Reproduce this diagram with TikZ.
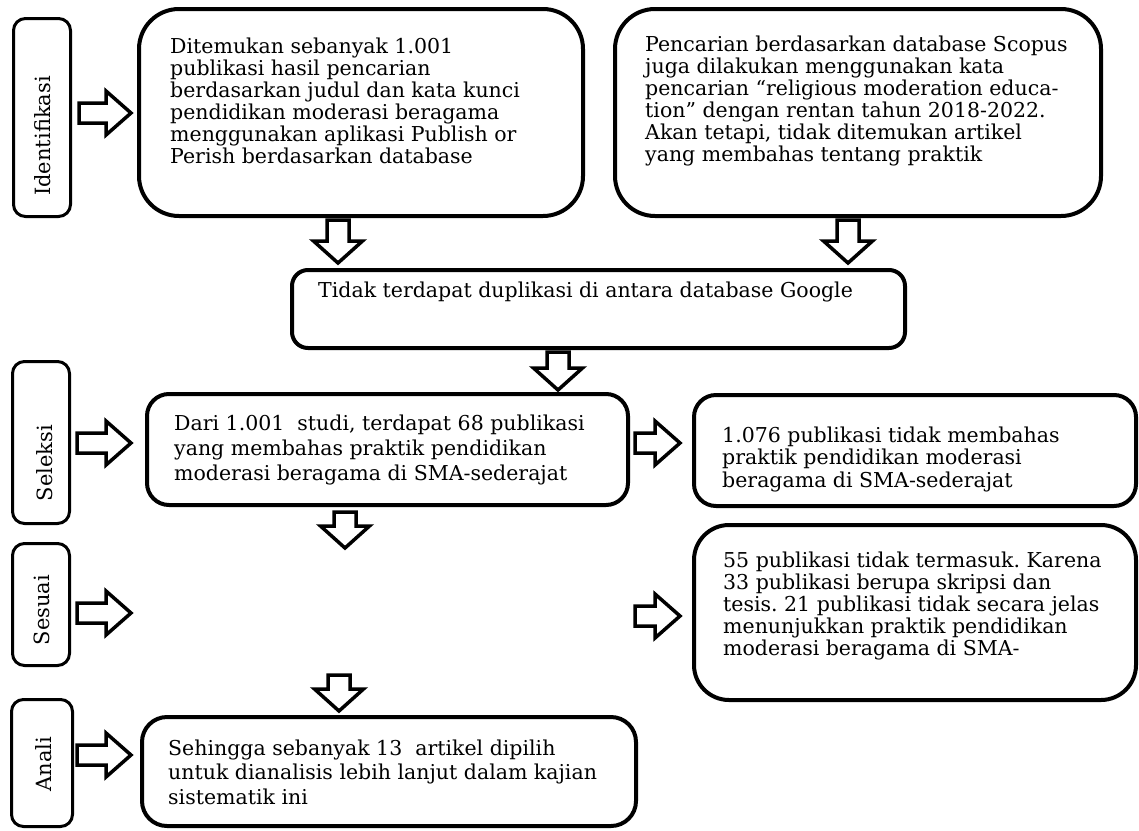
\documentclass[tikz,border=0pt]{standalone}
\usepackage{fontspec}
\setmainfont{DejaVu Serif}
\usetikzlibrary{calc}
\frenchspacing
\newcommand\txtlines[1]{\parbox[t]{600pt}{\lineskiplimit=-100pt #1}}
\newcommand\rarr[2]{\draw[blk] ($(#1)+(0,10)$) -- ($(#2)+(-25,10)$) -- ($(#2)+(-25,22)$) -- (#2) -- ($(#2)+(-25,-22)$) -- ($(#2)+(-25,-10)$) -- ($(#1)+(0,-10)$) -- cycle;}
\newcommand\darr[2]{\draw[blk] ($(#1)+(-11,0)$) -- ($(#2)+(-11,22)$) -- ($(#2)+(-24.5,22)$) -- (#2) -- ($(#2)+(24.5,22)$) -- ($(#2)+(11,22)$) -- ($(#1)+(11,0)$) -- cycle;}
\begin{document}
\begin{tikzpicture}[x=1pt,y=1pt,
  box/.style={draw, line width=4pt, inner sep=0pt, outer sep=0pt, anchor=north west},
  lbl/.style={draw, line width=3pt, rounded corners=12pt, inner sep=0pt, outer sep=0pt, anchor=north west},
  txt/.style={inner sep=0pt, anchor=base west, font=\fontsize{20.5}{#1}\selectfont},
  ltxt/.style={inner sep=0pt, anchor=base, rotate=90, font=\fontsize{21}{21}\selectfont},
  blk/.style={draw, line width=3.5pt, fill=white, miter limit=10}]
\useasboundingbox (0,0) rectangle (1139,-830);
% label boxes
\node[lbl, minimum width=57, minimum height=198] (lblI) at (13.5,-18.5) {};
\node[lbl, minimum width=57, minimum height=162] (lblS) at (12.5,-361.5) {};
\node[lbl, minimum width=57, minimum height=122] (lblSs) at (12.5,-543.5) {};
\node[lbl, minimum width=61, minimum height=127] (lblA) at (11.5,-699.5) {};
\node[ltxt] (tI) at (50,-136) {Identifikasi};
\node[ltxt] (tS) at (52,-463) {Seleksi};
\node[ltxt] (tSs) at (49,-610) {Sesuai};
\node[ltxt] (tA) at (51,-764) {Anali};
% content boxes
\node[box, rounded corners=40pt, minimum width=444, minimum height=207] (A) at (139,-9) {};
\node[box, rounded corners=40pt, minimum width=486, minimum height=207] (B) at (615,-9) {};
\node[box, rounded corners=16pt, minimum width=613, minimum height=78] (C) at (292,-270) {};
\node[box, rounded corners=22pt, minimum width=481, minimum height=111] (D) at (147,-394) {};
\node[box, rounded corners=22pt, minimum width=442, minimum height=111] (E) at (694,-395) {};
\node[box, rounded corners=35pt, minimum width=442, minimum height=175] (F) at (694,-525) {};
\node[box, rounded corners=25pt, minimum width=494, minimum height=109] (G) at (142,-717) {};
% texts
\node[txt=22] (At) at (170,-53) {\txtlines{Ditemukan sebanyak 1.001\\publikasi hasil pencarian\\berdasarkan judul dan kata kunci\\pendidikan moderasi beragama\\menggunakan aplikasi Publish or\\Perish berdasarkan database}};
\node[txt=22] (Bt) at (645,-51) {\txtlines{Pencarian berdasarkan database Scopus\\juga dilakukan menggunakan kata\\pencarian “religious moderation educa-\\tion” dengan rentan tahun 2018-2022.\\Akan tetapi, tidak ditemukan artikel\\yang membahas tentang praktik}};
\node[txt=22] (Ct) at (318,-297) {\txtlines{Tidak terdapat duplikasi di antara database Google}};
\node[txt=25] (Dt) at (174,-430) {\txtlines{Dari 1.001\ \ studi, terdapat 68 publikasi\\yang membahas praktik pendidikan\\moderasi beragama di SMA-sederajat}};
\node[txt=22.5] (Et) at (722,-442) {\txtlines{1.076 publikasi tidak membahas\\praktik pendidikan moderasi\\beragama di SMA-sederajat}};
\node[txt=22] (Ft) at (723,-567) {\txtlines{55 publikasi tidak termasuk. Karena\\33 publikasi berupa skripsi dan\\tesis. 21 publikasi tidak secara jelas\\menunjukkan praktik pendidikan\\moderasi beragama di SMA-}};
\node[txt=24.5] (Gt) at (168,-755) {\txtlines{Sehingga sebanyak 13\ \ artikel dipilih\\untuk dianalisis lebih lanjut dalam kajian\\sistematik ini}};
% connector coordinates
\coordinate (a1) at ($(A.south west)+(199,-4)$);
\coordinate (a2) at ($(a1 |- C.north)+(0,7)$);
\coordinate (b1) at ($(B.south west)+(233,-4)$);
\coordinate (b2) at ($(b1 |- C.north)+(0,7)$);
\coordinate (c1) at ($(C.south west)+(266,-4)$);
\coordinate (c2) at ($(c1 |- D.north)+(0,4)$);
\coordinate (d1) at ($(D.south west)+(198,-7)$);
\coordinate (d2) at ($(d1)+(0,-36)$);
\coordinate (g2) at ($(G.north west)+(197,6)$);
\coordinate (g1) at ($(g2)+(0,36)$);
\coordinate (i1) at ($(lblI.east)+(8.5,4.5)$);
\coordinate (i2) at ($(i1 -| A.west)+(-8,0)$);
\coordinate (s1) at ($(lblS.east)+(7.5,-0.5)$);
\coordinate (s2) at ($(s1 -| D.west)+(-16,0)$);
\coordinate (e1) at ($(D.east)+(7,6.5)$);
\coordinate (e2) at ($(e1 -| E.west)+(-14,0)$);
\coordinate (ss1) at ($(lblSs.east)+(7.5,-8.5)$);
\coordinate (ss2) at ($(ss1)+(54,0)$);
\coordinate (f2) at ($(F.west)+(-14,-3.5)$);
\coordinate (f1) at ($(f2)+(-45,0)$);
\coordinate (an1) at ($(lblA.east)+(4.5,8)$);
\coordinate (an2) at ($(an1 -| G.west)+(-11,0)$);
% block arrows
\darr{a1}{a2}
\darr{b1}{b2}
\darr{c1}{c2}
\darr{d1}{d2}
\darr{g1}{g2}
\rarr{i1}{i2}
\rarr{s1}{s2}
\rarr{e1}{e2}
\rarr{ss1}{ss2}
\rarr{f1}{f2}
\rarr{an1}{an2}
\end{tikzpicture}
\end{document}
